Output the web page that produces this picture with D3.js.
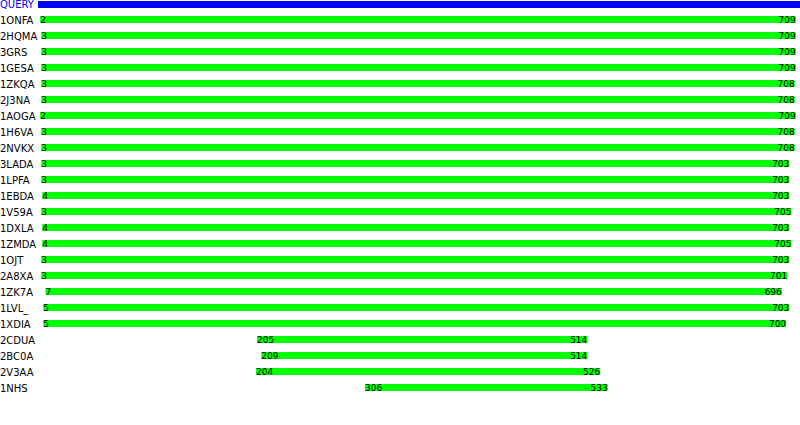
<!DOCTYPE html>
<html><head><meta charset="utf-8">
<script src="https://cdn.jsdelivr.net/npm/d3@7"></script>
<style>body{margin:0;background:#fff}svg{display:block}</style>
</head><body>
<script>
const queryLength = 713;
const names = ["1ONFA","2HQMA","3GRS","1GESA","1ZKQA","2J3NA","1AOGA","1H6VA","2NVKX","3LADA","1LPFA","1EBDA","1V59A","1DXLA","1ZMDA","1OJT","2A8XA","1ZK7A","1LVL_","1XDIA","2CDUA","2BC0A","2V3AA","1NHS"];
const starts = [2,3,3,3,3,3,2,3,3,3,3,4,3,4,4,3,3,7,5,5,205,209,204,306];
const ends = [709,709,709,709,708,708,709,708,708,703,703,703,705,703,705,703,701,696,703,700,514,514,526,533];

const W = 800, H = 425;
const svg = d3.select("body").append("svg").attr("width", W).attr("height", H);
const x = d3.scaleLinear().domain([0, queryLength]).range([38, 800]);
const y = d3.scaleBand().domain(d3.range(names.length)).range([16, 16 + 16 * names.length]).paddingInner(0);
const barH = 7;
const font = "DejaVu Sans, sans-serif";

// query
svg.append("rect").attr("x", x(0)).attr("y", 1).attr("width", x(queryLength) - x(0)).attr("height", barH).attr("fill", "#0000ff");
svg.append("text").attr("x", 0).attr("y", 8).attr("fill", "#0000ff").attr("font-family", font).attr("font-size", 10).text("QUERY");

const rows = svg.selectAll("g.row").data(names.map((n, i) => ({n, s: starts[i], e: ends[i], i})))
  .enter().append("g").attr("class", "row").attr("transform", d => `translate(0,${y(d.i)})`);

rows.append("text").attr("x", 0).attr("y", 8).attr("fill", "#000").attr("font-family", font).attr("font-size", 10).text(d => d.n);
rows.append("rect").attr("x", d => x(d.s)).attr("y", 0).attr("width", d => x(d.e) - x(d.s)).attr("height", barH).attr("fill", "#00ff00");
rows.append("text").attr("x", d => x(d.s)).attr("y", 7).attr("fill", "#000").attr("font-family", font).attr("font-size", 9).text(d => d.s);
rows.append("text").attr("x", d => x(d.e)).attr("y", 7).attr("text-anchor", "end").attr("fill", "#000").attr("font-family", font).attr("font-size", 9).text(d => d.e);
</script>
</body></html>
